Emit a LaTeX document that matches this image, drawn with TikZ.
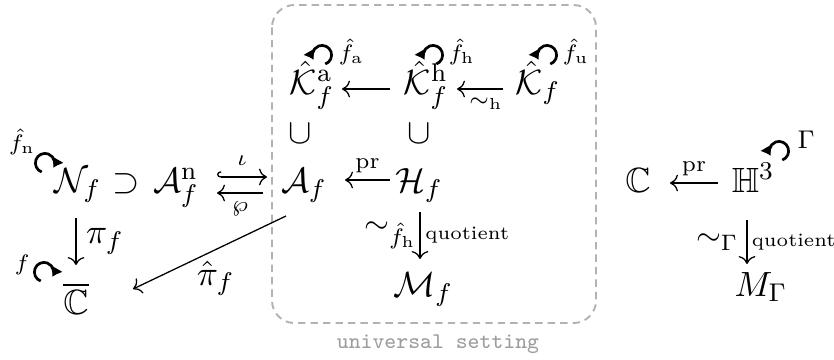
\documentclass[tikz,border=0pt]{standalone}
\usepackage{amsmath,amssymb}
\usetikzlibrary{arrows.meta,calc}
\begin{document}
\begin{tikzpicture}[x=0.3125pt,y=-0.3125pt,
  m/.style={inner sep=0pt,anchor=base,font=\fontsize{10.95}{13}\selectfont},
  lb/.style={inner sep=0pt},
  lbig/.style={inner sep=0pt,font=\fontsize{10.95}{13}\selectfont},
  qt/.style={inner sep=0pt,font=\fontsize{5.9}{7}\selectfont},
  cd/.style={line width=0.4pt,-{Computer Modern Rightarrow}},
  hk/.style={line width=0.4pt,{Hooks[arc=180,right,length=1.3pt,width=3.6pt]}-{Computer Modern Rightarrow}},
  loopy/.style={line width=0.85pt,-{Latex[length=2.9pt,width=4.2pt]}},
  boxline/.style={draw=black!30,dash pattern=on 2.3pt off 1.6pt,line width=0.6pt,rounded corners=7pt},
  univ/.style={inner sep=0pt,text=black!38,font=\fontsize{7}{8}\selectfont\ttfamily},
]
\useasboundingbox (0,0) rectangle (834,359);

% frame
\draw[boxline] (272,5) rectangle (596,323);
\node[univ] (us) at (438,344) {universal setting};

% nodes
\node[m] (N)  at (78,192)  {$\mathcal{N}_f$};
\node[m] (sp) at (126,192) {$\supset$};
\node[m] (An) at (176,192) {$\mathcal{A}^{\mathrm{n}}_f$};
\node[m] (A)  at (304,192) {$\mathcal{A}_f$};
\node[m] (H)  at (419,192) {$\mathcal{H}_f$};
\node[m] (C)  at (638,192) {$\mathbb{C}$};
\node[m] (H3) at (753,192) {$\mathbb{H}^3$};
\node[m] (Ka) at (312,94)  {$\hat{\mathcal{K}}^{\mathrm{a}}_f$};
\node[m] (Kh) at (426,94)  {$\hat{\mathcal{K}}^{\mathrm{h}}_f$};
\node[m] (K)  at (538,94)  {$\hat{\mathcal{K}}_f$};
\node[m] (cupa) at (300,143) {$\cup$};
\node[m] (cuph) at (419,143) {$\cup$};
\node[m] (Cb) at (76,314)  {$\overline{\mathbb{C}}$};
\node[m] (Mf) at (423,296) {$\mathcal{M}_f$};
\node[m] (MG) at (761,296) {$M_\Gamma$};

% horizontal arrows
\draw[cd] ($(Kh.base)+(-36,-5)$) -- ($(Ka.base)+(30,-5)$);
\draw[cd] ($(K.base)+(-35,-5)$) -- node[lb,pos=0.37,below=2.5pt] (sh) {$\scriptstyle\sim_{\mathrm{h}}$} ($(Kh.base)+(31,-5)$);
\draw[cd] ($(H.base)+(-29,-12)$) -- node[lb,midway,above=2pt] (pr1) {$\scriptstyle\mathrm{pr}$} ($(A.base)+(41,-12)$);
\draw[cd] ($(H3.base)+(-35,-9)$) -- node[lb,midway,above=2pt] (pr2) {$\scriptstyle\mathrm{pr}$} ($(C.base)+(32,-9)$);
\draw[hk] ($(An.base)+(41,-15)$) -- node[lb,midway,above=3.5pt] (io) {$\scriptstyle\iota$} ($(A.base)+(-37,-15)$);
\draw[cd] ($(A.base)+(-41,1)$) -- node[lb,midway,below=2.5pt] (wp) {$\scriptstyle\wp$} ($(An.base)+(41,1)$);

% vertical arrows
\draw[cd] ($(N.base)+(-2,26)$) -- node[lbig,midway,right=3pt] (pf) {$\pi_f$} ($(Cb.base)+(0,-49)$);
\draw[cd] ($(H.base)+(1,20)$) -- node[lb,midway,left=0.8pt] (sfh) {$\sim_{\hat f_{\mathrm{h}}}$}
  node[qt,midway,right=1.5pt] (q1) {quotient} ($(Mf.base)+(-3,-37)$);
\draw[cd] ($(H3.base)+(-6,28)$) -- node[lb,midway,left=2.5pt] (sG) {$\sim_{\Gamma}$}
  node[qt,midway,right=1.3pt] (q2) {quotient} ($(MG.base)+(-14,-32)$);

% diagonal
\draw[cd] ($(A.base)+(-18,24)$) -- node[lbig,pos=0.46,yshift=-9pt] (ph) {$\hat\pi_f$} ($(Cb.base)+(57,-25)$);

% loops
\coordinate (ln) at (45,163);
\coordinate (lc) at (44,272);
\coordinate (la) at (322,55);
\coordinate (lh) at (433,55);
\coordinate (lu) at (547,55);
\coordinate (lG) at (779,151);
\draw[loopy] (ln) ++(250:3pt) arc[start angle=250,end angle=-30,radius=3pt];
\draw[loopy] (lc) ++(250:3pt) arc[start angle=250,end angle=-30,radius=3pt];
\foreach \c in {la,lh,lu,lG}
  \draw[loopy] (\c) ++(-70:3pt) arc[start angle=-70,end angle=210,radius=3pt];
\node[m,font=] (fn) at (22,150) {$\scriptstyle\hat f_{\mathrm{n}}$};
\node[m,font=] (fc) at (22,270) {$\scriptstyle f$};
\node[m,font=,anchor=base west] (fa) at (338,60) {$\scriptstyle\hat f_{\mathrm{a}}$};
\node[m,font=,anchor=base west] (fh) at (448,60) {$\scriptstyle\hat f_{\mathrm{h}}$};
\node[m,font=,anchor=base west] (fu) at (562,60) {$\scriptstyle\hat f_{\mathrm{u}}$};
\node[m,anchor=base west] (G) at (797,148) {$\scriptstyle\Gamma$};
\end{tikzpicture}
\end{document}
